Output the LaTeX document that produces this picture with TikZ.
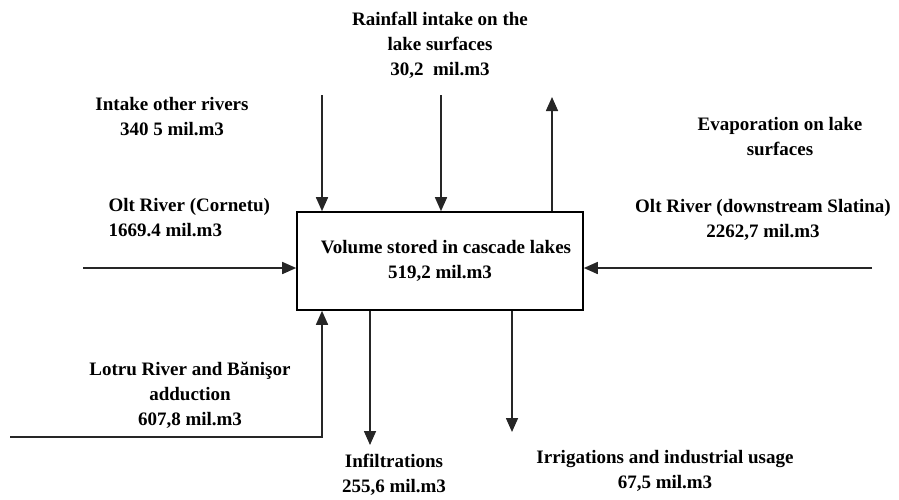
\documentclass[tikz,border=0pt]{standalone}
\usepackage{fontspec}
\setmainfont{Liberation Serif}
\usetikzlibrary{arrows.meta, positioning, calc}

\begin{document}
\begin{tikzpicture}[
    x=1pt, y=-1pt,
    lakebox/.style={draw, line width=1.6pt, minimum width=286pt, minimum height=98pt,
                    font=\bfseries\fontsize{19}{25}\selectfont, align=center},
    lbl/.style={font=\bfseries\fontsize{19}{25}\selectfont, align=center},
    arr/.style={-{Triangle[length=14pt, width=12pt]}, line width=1.6pt, black!85}
  ]
  \useasboundingbox (0,0) rectangle (899,499);

  % Lake cascade
  \node[lakebox] (lake) at (440,261) {\hspace*{12pt}Volume stored in cascade lakes\\519,2 mil.m3};

  % Free ends
  \coordinate (oltLstart) at (83,268);
  \coordinate (oltRstart) at (872,268);
  \coordinate (intakeTop) at (322,95);
  \coordinate (rainTop) at (441,95);
  \coordinate (evapTop) at (552,97);
  \coordinate (lotruStart) at (10,437);
  \coordinate (lotruTurn) at (322,437);
  \coordinate (infilEnd) at (370,445);
  \coordinate (irrigEnd) at (512,432);

  % Labels
  \node[lbl] (intake) at (172,117) {Intake other rivers\\340 5 mil.m3};
  \node[lbl, align=left, anchor=west] (oltL) at (105,218) {Olt River (Cornetu)\\1669.4 mil.m3};
  \node[lbl] (rain) at (440,45) {Rainfall intake on the\\lake surfaces\\30,2~ mil.m3};
  \node[lbl] (evap) at (780,137) {Evaporation on lake\\surfaces};
  \node[lbl] (oltR) at (763,220) {Olt River (downstream Slatina)\\2262,7 mil.m3};
  \node[lbl] (lotru) at (190,395) {Lotru River and Bănişor\\adduction\\607,8 mil.m3};
  \node[lbl] (infil) at (394,475) {Infiltrations\\255,6 mil.m3};
  \node[lbl] (irrig) at (665,471) {Irrigations and industrial usage\\67,5 mil.m3};

  % Inflows
  \draw[arr] (oltLstart) -- (oltLstart -| lake.west);
  \draw[arr] (oltRstart) -- (oltRstart -| lake.east);
  \draw[arr] (intakeTop) -- (intakeTop |- lake.north);
  \draw[arr] (rainTop) -- (rainTop |- lake.north);
  \draw[arr] (lotruStart) -- (lotruTurn) -- (lotruTurn |- lake.south);

  % Outflows
  \draw[arr] (evapTop |- lake.north) -- (evapTop);
  \draw[arr] (infilEnd |- lake.south) -- (infilEnd);
  \draw[arr] (irrigEnd |- lake.south) -- (irrigEnd);
\end{tikzpicture}
\end{document}
